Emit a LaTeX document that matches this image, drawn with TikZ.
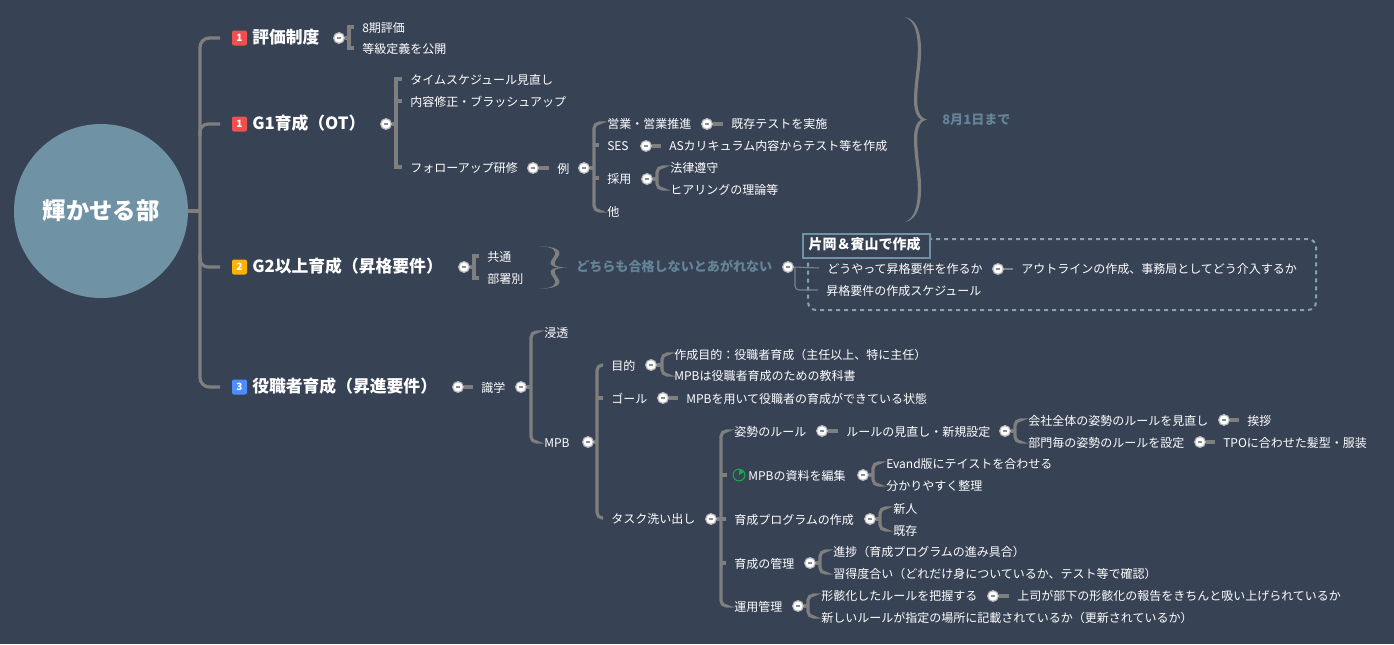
\documentclass[tikz,border=0pt]{standalone}
\usepackage{fontspec}
\setmainfont{Noto Sans CJK JP}
\usetikzlibrary{calc}
\usetikzlibrary{positioning}
\definecolor{bgblue}{HTML}{374254}
\definecolor{rootblue}{HTML}{6F93A5}
\definecolor{notegray}{HTML}{648499}
\definecolor{linegray}{HTML}{7F7F7F}
\definecolor{badgered}{HTML}{EF4F4F}
\definecolor{badgeyellow}{HTML}{FFB300}
\definecolor{badgeblue}{HTML}{4D8DFF}
\definecolor{iconbordergreen}{HTML}{1AA84F}
\tikzset{
  plaintext/.style = {anchor = west, inner ysep = 0pt, text = white, text height = .88em, text depth = .12em},
  leaf/.style = {plaintext, xshift = -6pt, inner xsep = 6pt, font = \fontsize{9pt}{11pt}\selectfont},
  topic/.style = {plaintext, inner xsep = 0pt, font = \fontsize{12.6pt}{14pt}\selectfont\bfseries},
  note/.style = {plaintext, inner xsep = 0pt, text = notegray, font = \fontsize{9.8pt}{12pt}\selectfont\bfseries},
  badge/.style = {rounded corners = 1.5pt, fill = #1, text = white, inner sep = 0pt, minimum size = 11.25pt,
    outer xsep = 9pt, font = \fontsize{7.5pt}{8pt}\selectfont\bfseries},
  knob/.style = {circle, draw = white!45!linegray, line width = .9pt, fill = white, inner sep = 0pt, minimum size = 8pt,
    path picture = {\draw[bgblue!60!white, line width = .8pt] ($(path picture bounding box.center)+(-1.7pt,0)$) -- ++(3.4pt,0);}},
  branch/.style = {draw = linegray, line width = 2.4pt},
  thinline/.style = {draw = linegray!70!rootblue, line width = .8pt},
  sumbrace/.style = {fill = linegray}
}
\newcommand{\fork}[5][rounded corners=4pt]{
  \coordinate (sp) at (#3, 0);
  \draw[branch] (#2.east) -- (sp |- #2.east);
  \draw[branch, #1] (#4.west) -- (sp |- #4.west) -- (sp |- #5.west) -- (#5.west);
}
\newcommand{\bigbrace}[4]{
  \begin{scope}[shift = {(#1, #2)}, x = #3*.75pt, y = -#4*.75pt]
    \fill[sumbrace] (0, 0) .. controls (.6, .01) and (.85, .1) .. (.68, .25)
      .. controls (.5, .4) and (.45, .49) .. (1, .5)
      .. controls (.45, .51) and (.5, .6) .. (.68, .75)
      .. controls (.85, .9) and (.6, .99) .. (0, 1)
      .. controls (.5, .98) and (.68, .9) .. (.53, .75)
      .. controls (.36, .6) and (.32, .53) .. (.72, .5)
      .. controls (.32, .47) and (.36, .4) .. (.53, .25)
      .. controls (.68, .1) and (.5, .02) .. (0, 0) -- cycle;
  \end{scope}
}

\begin{document}
\begin{tikzpicture}[x = .75pt, y = -.75pt]
  \fill[bgblue] (0, 0) rectangle (1394, 644);
  \useasboundingbox (0, 0) rectangle (1394, 644);

  \node (root) at (101, 211) [circle, fill = rootblue, minimum size = 130.5pt, inner sep = 0pt, outer sep = 0pt, text = white,
    font = \fontsize{17.5pt}{20pt}\selectfont\bfseries] {輝かせる部};

  \node (b1) at (239.5, 38) [badge = badgered] {1};
  \node (b2) at (239.5, 124) [badge = badgered] {1};
  \node (b3) at (239.5, 267) [badge = badgeyellow] {2};
  \node (b4) at (239.5, 387) [badge = badgeblue] {3};
  \node (t1) at (252, 38) [topic] {評価制度};
  \node (t2) at (252, 124) [topic] {G1育成（OT）};
  \node (t3) at (252, 267) [topic] {G2以上育成（昇格要件）};
  \node (t4) at (252, 387) [topic] {役職者育成（昇進要件）};
  \fork[rounded corners = 7pt]{root}{200}{b1}{b4}
  \draw[branch, rounded corners = 6pt] ($(sp |- b2.west)+(0, 12)$) |- (b2.west);
  \draw[branch, rounded corners = 6pt] ($(sp |- b3.west)+(0, -12)$) |- (b3.west);

  \node (k1) at (339, 38) [knob] {};
  \node (a1) at (362, 27) [leaf] {8期評価};
  \node (a2) at (362, 48) [leaf] {等級定義を公開};
  \fork[sharp corners]{k1}{349}{a1}{a2}

  \node (k2) at (386, 124) [knob] {};
  \node (g1) at (410, 79) [leaf] {タイムスケジュール見直し};
  \node (g2) at (410, 101) [leaf] {内容修正・ブラッシュアップ};
  \node (g3) at (410, 167) [leaf] {フォローアップ研修};
  \fork[sharp corners]{k2}{396}{g1}{g3}
  \draw[branch] (sp |- g2.west) -- (g2.west);

  \node (k3) at (533, 168) [knob] {};
  \node (ex) at (557, 168) [leaf] {例};
  \draw[branch] (k3.east) -- (ex.west);
  \node (k4) at (584, 168) [knob] {};
  \node (e1) at (607, 123) [leaf] {営業・営業推進};
  \node (e2) at (607, 145) [leaf] {SES};
  \node (e3) at (607, 178) [leaf] {採用};
  \node (e4) at (607, 211) [leaf] {他};
  \fork{k4}{594}{e1}{e4}
  \foreach \kid in {e2, e3} \draw[branch] (sp |- \kid.west) -- (\kid.west);

  \node (k5) at (707, 124) [knob] {};
  \node (e5) at (731, 123) [leaf] {既存テストを実施};
  \draw[branch] (k5.east) -- (e5.west |- k5.east);
  \node (k6) at (646, 146) [knob] {};
  \node (e6) at (669, 145) [leaf] {ASカリキュラム内容からテスト等を作成};
  \draw[branch] (k6.east) -- (e6.west |- k6.east);
  \node (k7) at (647, 179) [knob] {};
  \node (e7) at (670, 167) [leaf] {法律遵守};
  \node (e8) at (670, 189) [leaf] {ヒアリングの理論等};
  \fork{k7}{657}{e7}{e8}

  \bigbrace{905}{17}{22}{205}
  \node (n1) at (942, 119) [note] {8月1日まで};

  \node (k8) at (464, 267) [knob] {};
  \node (c1) at (487, 256) [leaf] {共通};
  \node (c2) at (487, 278) [leaf] {部署別};
  \fork[sharp corners]{k8}{474}{c1}{c2}

  \bigbrace{539}{246}{28}{43}
  \node (n2) at (576, 266) [note] {どちらも合格しないとあがれない};

  \node (area) at (1062, 274.5) [draw = rootblue!85!white, dashed, line width = 1.5pt, rounded corners = 6pt,
    minimum width = 381pt, minimum height = 53.25pt] {};
  \node (title) at (866.5, 246) [draw = rootblue, line width = 1.5pt, fill = bgblue, text = white, inner xsep = 4pt, inner ysep = 0pt,
    text width = 87pt, align = left, text height = .88em, text depth = .4em, minimum height = 18pt,
    font = \fontsize{10.5pt}{12pt}\selectfont\bfseries] {片岡＆賓山で作成};

  \node (k9) at (788, 267) [knob] {};
  \node (d1) at (827, 268) [leaf] {どうやって昇格要件を作るか};
  \node (d2) at (826, 290) [leaf] {昇格要件の作成スケジュール};
  \draw[thinline] (k9.east) -- (d1.west);
  \coordinate (sp) at (795, 0);
  \draw[thinline, rounded corners = 3pt] (sp |- k9.east) -- (sp |- d2.west) -- (d2.west);
  \node (k10) at (998, 269) [knob] {};
  \node (d3) at (1021, 268) [leaf] {アウトラインの作成、事務局としてどう介入するか};
  \draw[thinline] (k10.east) -- (d3.west |- k10.east);

  \node (k11) at (458, 387) [knob] {};
  \node (s1) at (481, 387) [leaf] {識学};
  \draw[branch] (k11.east) -- (s1.west);
  \node (k12) at (521, 387) [knob] {};
  \node (s2) at (544, 332) [leaf] {浸透};
  \node (s3) at (544, 442) [leaf] {MPB};
  \fork{k12}{531}{s2}{s3}

  \node (k13) at (588, 442) [knob] {};
  \node (m1) at (611, 365) [leaf] {目的};
  \node (m2) at (611, 398) [leaf] {ゴール};
  \node (m3) at (611, 518) [leaf] {タスク洗い出し};
  \fork{k13}{597}{m1}{m3}
  \draw[branch] (sp |- m2.west) -- (m2.west);

  \node (k14) at (651, 365) [knob] {};
  \node (m4) at (674, 354) [leaf] {作成目的：役職者育成（主任以上、特に主任）};
  \node (m5) at (674, 375) [leaf] {MPBは役職者育成のための教科書};
  \fork{k14}{662}{m4}{m5}
  \node (k15) at (663, 398) [knob] {};
  \node (m6) at (686, 398) [leaf] {MPBを用いて役職者の育成ができている状態};
  \draw[branch] (k15.east) -- (m6.west);

  \node (k16) at (711, 519) [knob] {};
  \node (w1) at (734, 431) [leaf] {姿勢のルール};
  \node (w2) at (748, 475) [leaf] {MPBの資料を編集};
  \node (w3) at (734, 519) [leaf] {育成プログラムの作成};
  \node (w4) at (734, 563) [leaf] {育成の管理};
  \node (w5) at (734, 606) [leaf] {運用管理};
  \fork{k16}{721}{w1}{w5}
  \coordinate (w2in) at (727, 475);
  \draw[branch] (sp |- w2in) -- (w2in);
  \foreach \kid in {w3, w4} \draw[branch] (sp |- \kid.west) -- (\kid.west);
  \draw[iconbordergreen, line width = .8pt] (739, 475) circle (4.4pt);
  \fill[iconbordergreen] (739, 475) -- (739, 469.1) arc (90:30:4.4pt) -- cycle;

  \node (k17) at (822, 431) [knob] {};
  \node (w6) at (846, 431) [leaf] {ルールの見直し・新規設定};
  \draw[branch] (k17.east) -- (w6.west);
  \node (k18) at (1005, 431) [knob] {};
  \node (w7) at (1028, 420) [leaf] {会社全体の姿勢のルールを見直し};
  \node (w8) at (1028, 442) [leaf] {部門毎の姿勢のルールを設定};
  \fork{k18}{1015}{w7}{w8}
  \node (k19) at (1224, 420) [knob] {};
  \node (w9) at (1247, 420) [leaf] {挨拶};
  \draw[branch] (k19.east) -- (w9.west);
  \node (k20) at (1200, 442) [knob] {};
  \node (w10) at (1223, 442) [leaf] {TPOに合わせた髪型・服装};
  \draw[branch] (k20.east) -- (w10.west);

  \node (k21) at (863, 475) [knob] {};
  \node (p1) at (886, 463) [leaf] {Evand版にテイストを合わせる};
  \node (p2) at (886, 485) [leaf] {分かりやすく整理};
  \fork{k21}{873}{p1}{p2}

  \node (k22) at (870, 519) [knob] {};
  \node (p3) at (893, 508) [leaf] {新人};
  \node (p4) at (893, 530) [leaf] {既存};
  \fork{k22}{880}{p3}{p4}

  \node (k23) at (810, 563) [knob] {};
  \node (p5) at (833, 551) [leaf] {進捗（育成プログラムの進み具合）};
  \node (p6) at (833, 573) [leaf] {習得度合い（どれだけ身についているか、テスト等で確認）};
  \fork{k23}{820}{p5}{p6}

  \node (k24) at (798, 606) [knob] {};
  \node (p7) at (821, 595) [leaf] {形骸化したルールを把握する};
  \node (p8) at (821, 617) [leaf] {新しいルールが指定の場所に記載されているか（更新されているか）};
  \fork{k24}{808}{p7}{p8}
  \node (k25) at (993, 596) [knob] {};
  \node (p9) at (1017, 595) [leaf] {上司が部下の形骸化の報告をきちんと吸い上げられているか};
  \draw[branch] (k25.east) -- (p9.west |- k25.east);
\end{tikzpicture}
\end{document}
